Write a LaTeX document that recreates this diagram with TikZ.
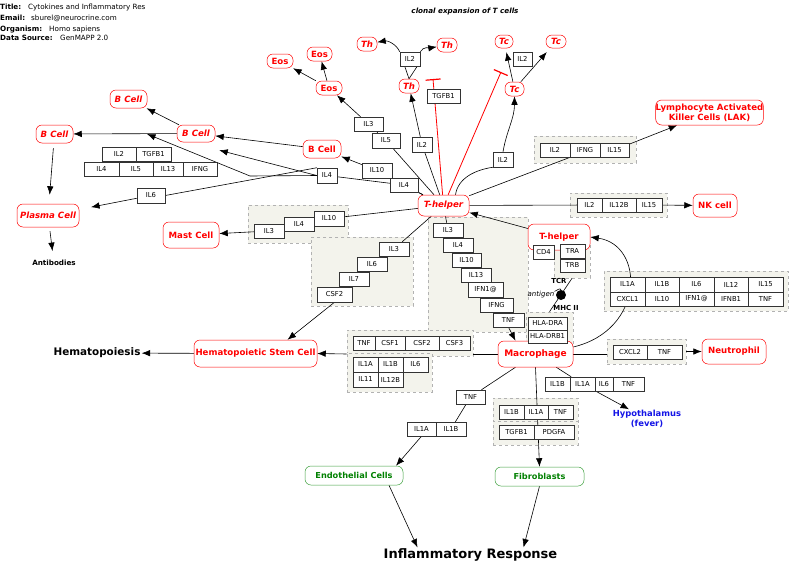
\documentclass[tikz,border=0pt]{standalone}
\usepackage{fontspec}
\setmainfont{DejaVu Sans}
\usetikzlibrary{arrows.meta}
\pgfdeclarelayer{grpl}
\pgfdeclarelayer{edgel}
\pgfsetlayers{grpl,edgel,main}
\definecolor{bgc}{RGB}{243,243,236}
\definecolor{grnb}{RGB}{60,160,60}
\definecolor{grnt}{RGB}{0,128,0}
\definecolor{bluet}{RGB}{20,20,230}
\newcommand\gbx[6]{\node[gene,minimum width={#4-#2},minimum height={#5-#3}] (#1) at ({(#2+#4)/2},{(#3+#5)/2}) {#6};}
\newcommand\cbx[7]{\node[#1,minimum width={#5-#3},minimum height={#6-#4}] (#2) at ({(#3+#5)/2},{(#4+#6)/2}) {#7};}
\newcommand\gpx[5]{\node[grp,minimum width={#4-#2},minimum height={#5-#3}] (#1) at ({(#2+#4)/2},{(#3+#5)/2}) {};}
\tikzset{
  gene/.style={draw=black!80, line width=0.5pt, fill=white, inner sep=0pt, font=\fontsize{6.8}{8}\selectfont},
  grp/.style={draw=black!30, dashed, line width=0.6pt, fill=bgc, inner sep=0pt},
  cell/.style={draw=red, line width=0.5pt, rounded corners=6pt, fill=white, text=red, inner sep=0pt, align=center, font=\bfseries\fontsize{8.6}{9.6}\selectfont},
  celli/.style={cell, font=\bfseries\itshape\fontsize{8.6}{9.6}\selectfont},
  gcell/.style={cell, draw=grnb, text=grnt, font=\bfseries\fontsize{8.2}{9.6}\selectfont},
  ln/.style={line width=0.6pt, black},
  arr/.style={ln, -{Latex[length=8.5pt,width=6.5pt]}},
  inh/.style={line width=0.8pt, red, -{Bar[width=15pt,line width=1.2pt]}},
  lbl/.style={inner sep=0pt, font=\fontsize{7.2}{8}\selectfont},
}
\begin{document}
\begin{tikzpicture}[x=1pt,y=-1pt]
\useasboundingbox (0,0) rectangle (800,584);
% title block
\node[lbl,anchor=base west] (t1) at (0,9.5) {\bfseries Title:};
\node[lbl,anchor=base west] (t1v) at (28,9.5) {Cytokines and Inflammatory Res};
\node[lbl,anchor=base west] (t2) at (0,20) {\bfseries Email:};
\node[lbl,anchor=base west] (t2v) at (31,20) {sburel@neurocrine.com};
\node[lbl,anchor=base west] (t3) at (0,31) {\bfseries Organism:};
\node[lbl,anchor=base west] (t3v) at (49,31) {Homo sapiens};
\node[lbl,anchor=base west] (t4) at (0,40) {\bfseries Data Source:};
\node[lbl,anchor=base west] (t4v) at (60,40) {GenMAPP 2.0};
\node[inner sep=0pt, font=\bfseries\itshape\fontsize{7.2}{8}\selectfont] (clonal) at (465,12) {clonal expansion of T cells};

% groups
\begin{pgfonlayer}{grpl}
\gpx{gLAK}{534}{136}{636}{163}
\gpx{gNK}{570}{193}{667}{217}
\gpx{gMast}{248}{205}{348}{243}
\gpx{gHS1}{311}{237}{413}{306}
\gpx{gMac}{428}{217}{528}{332}
\gpx{gTCR}{554}{243}{590}{278}
\gpx{gHLA}{526}{312}{573}{345}
\gpx{gBig}{604}{271}{788}{311}
\gpx{gNeu}{607}{339}{686}{364}
\gpx{gHS2}{347}{330}{473}{356}
\gpx{gHS3}{347}{353}{432}{392}
\gpx{gF1}{493}{398}{578}{422}
\gpx{gF2}{493}{421}{578}{445}
\end{pgfonlayer}

% cells
\cbx{celli}{thL}{357}{37}{377}{51}{Th}
\cbx{celli}{thR}{437}{38}{457}{52}{Th}
\cbx{celli}{th2}{399}{79}{419}{93}{Th}
\cbx{celli}{tc1}{495}{35}{513}{48}{Tc}
\cbx{celli}{tc2}{546}{35}{566}{48}{Tc}
\cbx{celli}{tc3}{505}{82}{524}{96}{Tc}
\cbx{cell}{eos1}{267}{54}{293}{68}{Eos}
\cbx{cell}{eos2}{307}{47}{332}{61}{Eos}
\cbx{cell}{eos3}{316}{81}{342}{95}{Eos}
\cbx{celli}{bc1}{110}{90}{147}{108}{B Cell}
\cbx{celli}{bc2}{36}{125}{73}{143}{B Cell}
\cbx{celli}{bc3}{177}{125}{215}{142}{B Cell}
\cbx{cell}{bc4}{303}{140}{341}{158}{B Cell}
\cbx{celli}{plasma}{17}{204}{79}{227}{Plasma Cell}
\cbx{cell}{mast}{163}{222}{219}{248}{Mast Cell}
\cbx{celli}{th}{418}{195}{469}{216}{T-helper}
\cbx{cell}{thr}{528}{224}{590}{250}{T-helper}
\cbx{cell}{lak}{657}{100}{762}{125}{Lymphocyte Activated\\Killer Cells (LAK)}
\cbx{cell}{nk}{693}{194}{737}{217}{NK cell}
\cbx{cell}{hsc}{194}{340}{317}{367}{Hematopoietic Stem Cell}
\cbx{cell}{mac}{498}{341}{573}{367}{\fontsize{9}{10}\selectfont Macrophage}
\cbx{cell}{neut}{702}{339}{766}{364}{Neutrophil}
\cbx{gcell}{endo}{305}{466}{403}{485}{Endothelial Cells}
\cbx{gcell}{fibro}{495}{467}{584}{486}{Fibroblasts}

% plain text nodes
\node[inner sep=1pt, font=\bfseries\fontsize{7.2}{8}\selectfont] (anti) at (54,263) {Antibodies};
\node[inner sep=1pt, font=\bfseries\fontsize{10.4}{12}\selectfont] (hemato) at (97,353) {Hematopoiesis};
\node[inner sep=1pt, font=\bfseries\fontsize{13}{15}\selectfont] (infl) at (470.5,555) {Inflammatory Response};
\node[inner sep=1pt, align=center, text=bluet, font=\bfseries\fontsize{8.4}{9.6}\selectfont] (hypo) at (647,419) {Hypothalamus\\(fever)};
\node[inner sep=0pt, font=\bfseries\fontsize{6.9}{8}\selectfont] (tcr) at (559,281) {TCR};
\node[inner sep=0pt, font=\bfseries\fontsize{6.9}{8}\selectfont] (mhc) at (566,308) {MHC II};
\node[inner sep=0pt, font=\itshape\fontsize{7}{8}\selectfont] (antigen) at (541,295) {antigen};
\node[circle, fill=black, inner sep=0pt, minimum size=10pt] (dot) at (561,295) {};

% gene boxes
\gbx{il2a}{400}{52}{420}{66}{IL2}
\gbx{tgfb1a}{427}{89}{460}{103}{TGFB1}
\gbx{il2b}{513}{52}{532}{66}{IL2}
\gbx{il2c}{412}{137}{432}{152}{IL2}
\gbx{il2d}{493}{152}{513}{167}{IL2}
\gbx{il3a}{354}{117}{383}{131}{IL3}
\gbx{il5a}{372}{133}{400}{148}{IL5}
\gbx{il10a}{362}{163}{392}{178}{IL10}
\gbx{il4a}{317}{168}{337}{183}{IL4}
\gbx{il4b}{390}{178}{418}{192}{IL4}
\gbx{il2e}{102}{147}{136}{161}{IL2}
\gbx{tgfb1b}{136}{147}{171}{161}{TGFB1}
\gbx{il4c}{84}{162}{119}{176}{IL4}
\gbx{il5b}{119}{162}{153}{176}{IL5}
\gbx{il13a}{153}{162}{183}{176}{IL13}
\gbx{ifnga}{183}{162}{217}{176}{IFNG}
\gbx{il6a}{137}{188}{165}{203}{IL6}
\gbx{il2f}{540}{143}{570}{157}{IL2}
\gbx{ifngc}{570}{143}{600}{157}{IFNG}
\gbx{il15a}{600}{143}{629}{157}{IL15}
\gbx{il2g}{577}{198}{602}{212}{IL2}
\gbx{il12b}{602}{198}{636}{212}{IL12B}
\gbx{il15b}{636}{198}{662}{212}{IL15}
\gbx{il3b}{254}{224}{284}{238}{IL3}
\gbx{il4d}{284}{217}{314}{231}{IL4}
\gbx{il10b}{314}{211}{344}{226}{IL10}
\gbx{il3c}{379}{242}{409}{256}{IL3}
\gbx{il6b}{357}{257}{387}{271}{IL6}
\gbx{il7a}{339}{272}{369}{286}{IL7}
\gbx{csf2a}{317}{287}{352}{302}{CSF2}
\gbx{il3d}{433}{223}{463}{237}{IL3}
\gbx{il4e}{443}{238}{473}{252}{IL4}
\gbx{il10c}{452}{253}{481}{267}{IL10}
\gbx{il13b}{461}{268}{491}{282}{IL13}
\gbx{ifn1a}{468}{282}{503}{297}{IFN1@}
\gbx{ifngb}{480}{298}{513}{312}{IFNG}
\gbx{tnfa}{493}{313}{524}{327}{TNF}
\gbx{cd4}{533}{245}{554}{259}{CD4}
\gbx{tra}{560}{244}{585}{258}{TRA}
\gbx{trb}{560}{259}{585}{272}{TRB}
\gbx{hladra}{528}{317}{567}{330}{HLA-DRA}
\gbx{hladrb}{528}{330}{567}{343}{HLA-DRB1}
\gbx{b11}{610}{277}{645}{292}{IL1A}
\gbx{b12}{645}{277}{679}{292}{IL1B}
\gbx{b13}{679}{277}{714}{292}{IL6}
\gbx{b14}{714}{277}{748}{292}{IL12}
\gbx{b15}{748}{277}{783}{292}{IL15}
\gbx{b21}{610}{292}{645}{306}{CXCL1}
\gbx{b22}{645}{292}{679}{306}{IL10}
\gbx{b23}{679}{292}{714}{306}{IFN1@}
\gbx{b24}{714}{292}{748}{306}{IFNB1}
\gbx{b25}{748}{292}{783}{306}{TNF}
\gbx{cxcl2}{613}{345}{647}{359}{CXCL2}
\gbx{tnfb}{647}{345}{682}{359}{TNF}
\gbx{tnfg}{353}{336}{375}{350}{TNF}
\gbx{csf1}{375}{336}{405}{350}{CSF1}
\gbx{csf2b}{405}{336}{439}{350}{CSF2}
\gbx{csf3}{439}{336}{470}{350}{CSF3}
\gbx{il1ag}{353}{357}{378}{372}{IL1A}
\gbx{il1bg}{378}{357}{403}{372}{IL1B}
\gbx{il6g}{403}{357}{428}{372}{IL6}
\gbx{il11}{353}{372}{378}{387}{IL11}
\gbx{il12bg}{378}{372}{403}{387}{IL12B}
\gbx{il1bb}{545}{377}{570}{391}{IL1B}
\gbx{il1ab}{570}{377}{595}{391}{IL1A}
\gbx{il6d}{595}{377}{613}{391}{IL6}
\gbx{tnfc}{613}{377}{644}{391}{TNF}
\gbx{tnfd}{456}{390}{485}{404}{TNF}
\gbx{il1ac}{407}{422}{436}{436}{IL1A}
\gbx{il1bc}{436}{422}{466}{436}{IL1B}
\gbx{il1bd}{499}{405}{524}{419}{IL1B}
\gbx{il1ad}{524}{405}{548}{419}{IL1A}
\gbx{tnfe}{548}{405}{573}{419}{TNF}
\gbx{tgfb1c}{499}{425}{534}{439}{TGFB1}
\gbx{pdgfa}{534}{425}{574}{439}{PDGFA}

\coordinate (bar1) at (433,79);
\coordinate (bar2) at (501,72);
\coordinate (j1) at (250,176);
\coordinate (j2) at (147,134);

\begin{pgfonlayer}{edgel}
% T-helper upward
\draw[ln] (th) -- (il5a) -- (il3a);
\draw[arr] (il3a) -- (eos3);
\draw[arr] (eos3) -- (eos2);
\draw[arr] (eos3) -- (eos1);
\draw[ln] (th) -- (il10a);
\draw[arr] (il10a) -- (bc4);
\draw[arr] (bc4) -- (bc3);
\draw[arr] (bc3) -- (bc1);
\draw[arr] (bc3) -- (bc2);
\draw[ln] (th) -- (il4b) -- (il4a);
\draw[arr] (il4a.west) -- ([xshift=4pt,yshift=-8pt]bc3.south east);
\draw[ln] (il4a.west) -- (j1);
\draw[arr] (j1) -- (j2);
\draw[ln] (il6a.east) -- (il4a.north west);
\draw[arr, shorten <=5pt, shorten >=9pt] (bc2) -- (plasma);
\draw[arr, shorten >=12pt] (il6a) -- (plasma);
\draw[arr, shorten <=4pt, shorten >=8pt] (plasma) -- (anti);
\draw[ln] (th) -- (il2c);
\draw[arr] (il2c) -- (th2);
\draw[ln] (th2.north) -- ([xshift=5pt]il2a.south west);
\draw[ln] (th2.north) -- ([xshift=-3pt]il2a.south east);
\draw[arr] (il2a.north west) to[out=115,in=10] (thL);
\draw[arr] (il2a.north east) to[out=60,in=190] (thR);
\draw[inh] (th) -- (bar1);
\draw[inh] (th) -- (bar2);
\draw[ln] ([xshift=12pt]th.north) .. controls (458,178) and (475,170) .. (il2d.south west);
\draw[arr] (il2d.north) to[out=80,in=-90] (tc3);
\draw[arr, shorten >=4pt] (tc3) -- (tc1);
\draw[arr, shorten >=5pt] (tc3) -- (tc2);
% right side
\draw[ln] (th) -- (il2f.south east);
\draw[arr] (il15a) -- (lak);
\draw[ln] (th) -- (il2g);
\draw[arr] (il15b) -- (nk);
\draw[arr] (thr) -- (th);
% down
\draw[ln] (th) -- (il10b) -- (il4d) -- (il3b);
\draw[arr] (il3b) -- (mast);
\draw[ln] (th) -- (il3c) -- (il6b) -- (il7a) -- (csf2a);
\draw[arr] (csf2a.south) -- ([xshift=32pt]hsc.north);
\draw[ln] (th) -- (il3d) -- (il4e) -- (il10c) -- (il13b) -- (ifn1a) -- (ifngb) -- (tnfa);
\draw[arr] (tnfa.south) -- ([xshift=-20pt]mac.north);
\draw[ln] (gTCR.south) -- (gHLA.north);
\draw[ln] (antigen.north east) to[out=20,in=110] (dot.north);
% macrophage
\draw[ln] (mac.west) -- (mac.west -| gHS2.east);
\draw[arr] (mac.west -| gHS2.west) -- (hsc.east);
\draw[arr] (hsc) -- (hemato);
\draw[ln] (mac.east) -- (mac.east -| gNeu.west);
\draw[arr] (gNeu) -- (neut);
\draw[arr] ([yshift=7pt]mac.east) .. controls (645,330) and (645,245) .. (thr.east);
\draw[ln] (mac) -- (il1ab);
\draw[arr] (il1ab) -- (hypo);
\draw[ln] (mac) -- (tnfd);
\draw[ln] (tnfd) -- (il1bc);
\draw[arr] (il1ac.south) -- ([xshift=42pt]endo.north);
\draw[arr] (mac.south) -- (fibro.north);
\draw[arr] ([xshift=35pt]endo.south) -- ([xshift=-53pt]infl.north);
\draw[arr] (fibro.south) -- ([xshift=53pt]infl.north);
\end{pgfonlayer}
\end{tikzpicture}
\end{document}
